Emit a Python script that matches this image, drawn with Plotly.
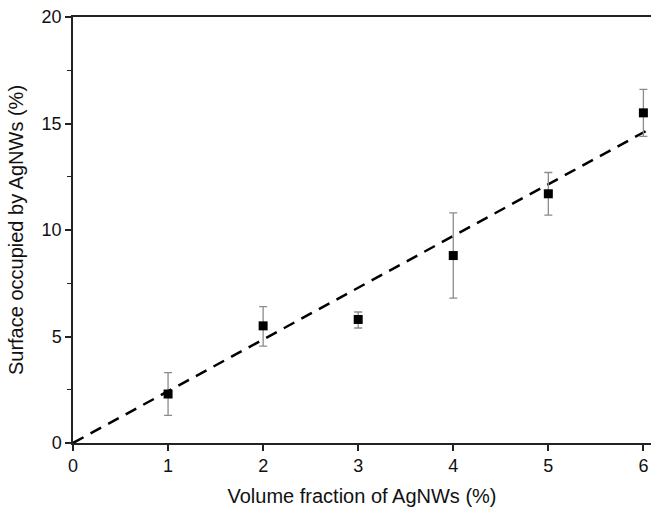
import plotly.graph_objects as go

volume_fraction = [1, 2, 3, 4, 5, 6]
surface_occupied = [2.3, 5.5, 5.8, 8.8, 11.7, 15.5]
error_plus = [1.0, 0.9, 0.35, 2.0, 1.0, 1.1]
error_minus = [1.0, 0.95, 0.4, 2.0, 1.0, 1.1]

fit_slope = 2.43
fit_x = [0, 6.1]
fit_y = [fit_slope * v for v in fit_x]

x_ticks = [0, 1, 2, 3, 4, 5, 6]
y_ticks = [0, 5, 10, 15, 20]

fig = go.Figure()
fig.add_trace(go.Scatter(
    x=fit_x, y=fit_y, mode="lines",
    line=dict(color="black", width=2.5, dash="12px,8px"),
    showlegend=False, hoverinfo="skip", cliponaxis=True,
))
fig.add_trace(go.Scatter(
    x=volume_fraction, y=surface_occupied, mode="markers",
    marker=dict(symbol="square", size=9, color="black"),
    error_y=dict(type="data", symmetric=False, array=error_plus, arrayminus=error_minus,
                 color="#8c8c8c", thickness=1.3, width=4),
    showlegend=False, cliponaxis=False,
))

font = "Liberation Sans, Arial, sans-serif"
fig.update_layout(
    width=651, height=513,
    margin=dict(l=73, r=0, t=17, b=70, autoexpand=False),
    paper_bgcolor="white", plot_bgcolor="white",
    font=dict(family=font, size=18, color="#111"),
    xaxis=dict(
        range=[0, 6.08], tickvals=x_ticks, ticks="outside", ticklen=6, tickwidth=1.5,
        tickcolor="#222", showline=True, linecolor="#222", linewidth=1.5, mirror=True,
        showgrid=False, zeroline=False, automargin=False,
        title=dict(text="Volume fraction of AgNWs (%)", font=dict(size=20), standoff=14),
    ),
    yaxis=dict(
        range=[0, 20], tickvals=y_ticks, ticks="outside", ticklen=6, tickwidth=1.5,
        tickcolor="#222", showline=True, linecolor="#222", linewidth=1.5,
        showgrid=False, zeroline=False, automargin=False,
        minor=dict(dtick=2.5, ticks="outside", ticklen=4, tickcolor="#222", tickwidth=1.2),
        title=dict(text="Surface occupied by AgNWs (%)", font=dict(size=20), standoff=13),
    ),
)
fig.write_html("out.html", config={"displayModeBar": False},
               post_script="document.body.style.margin='0';")
